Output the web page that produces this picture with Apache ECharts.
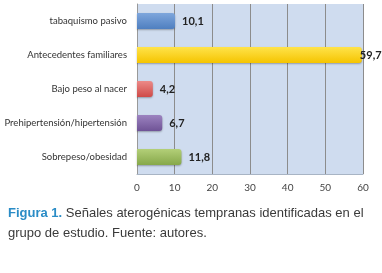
<!DOCTYPE html>
<html>
<head>
<meta charset="utf-8">
<script src="https://cdn.jsdelivr.net/npm/echarts@6/dist/echarts.min.js"></script>
<style>
  html, body { margin: 0; padding: 0; background: #fff; }
  #chart { width: 382px; height: 273px; }
</style>
</head>
<body>
<div id="chart"></div>
<script>
// categorías y valores (%)
const categorias = ["tabaquismo pasivo", "Antecedentes familiares", "Bajo peso al nacer", "Prehipertensión/hipertensión", "Sobrepeso/obesidad"];
const valores = [10.1, 59.7, 4.2, 6.7, 11.8];
const colores = [
  ["#7ea6dc", "#4f7fc0"],
  ["#ffe34a", "#f5c400"],
  ["#ec8a88", "#cf4a47"],
  ["#9c83c0", "#6f5396"],
  ["#b3cf78", "#86a84a"]
];
const ticks = [0, 10, 20, 30, 40, 50, 60];

let chart = echarts.init(document.getElementById("chart"));

const option = {
  animation: false,
  title: {
    left: 8,
    top: 203,
    padding: 0,
    text: "{b|Figura 1.} Señales aterogénicas tempranas identificadas en el\ngrupo de estudio. Fuente: autores.",
    textStyle: {
      fontFamily: "Liberation Sans, Arial",
      fontSize: 13,
      fontWeight: "normal",
      color: "#3a3a3a",
      lineHeight: 20,
      rich: {
        b: {
          fontFamily: "Liberation Sans, Arial",
          fontSize: 13,
          fontWeight: "bold",
          color: "#2a8cc6",
          lineHeight: 20
        }
      }
    }
  },
  grid: {
    left: 137,
    right: 19,
    top: 4,
    height: 170,
    outerBoundsMode: "none",
    containLabel: false,
    show: true,
    backgroundColor: "#cfdcef",
    borderWidth: 0
  },
  xAxis: {
    type: "value",
    min: ticks[0],
    max: ticks[ticks.length - 1],
    interval: 10,
    axisLine: { show: true, lineStyle: { color: "#a8b4c4" } },
    axisTick: { show: false },
    axisLabel: { color: "#444", fontSize: 10, fontFamily: "Lato, Open Sans", margin: 9 },
    splitLine: { show: true, lineStyle: { color: "#8c8c8c", width: 1 } }
  },
  yAxis: {
    type: "category",
    data: categorias,
    inverse: true,
    axisLine: { show: true, lineStyle: { color: "#999" } },
    axisTick: { show: false },
    axisLabel: { color: "#333", fontSize: 9.5, fontFamily: "Lato, Open Sans", margin: 10 }
  },
  series: [{
    type: "bar",
    barWidth: 16,
    data: valores.map((v, i) => ({
      value: v,
      label: v > 50 ? { distance: -2 } : undefined,
      itemStyle: {
        color: new echarts.graphic.LinearGradient(0, 0, 0, 1, [
          { offset: 0, color: colores[i][0] },
          { offset: 1, color: colores[i][1] }
        ]),
        borderRadius: [0, 3, 3, 0],
        shadowColor: "rgba(0,0,0,0.3)",
        shadowBlur: 2,
        shadowOffsetY: 1
      }
    })),
    label: {
      show: true,
      position: "right",
      distance: 7,
      color: "#222",
      fontSize: 11,
      fontWeight: "bold",
      fontFamily: "Lato, Open Sans",
      formatter: p => String(p.value).replace(".", ",")
    }
  }]
};

chart.setOption(option);
</script>
</body>
</html>
